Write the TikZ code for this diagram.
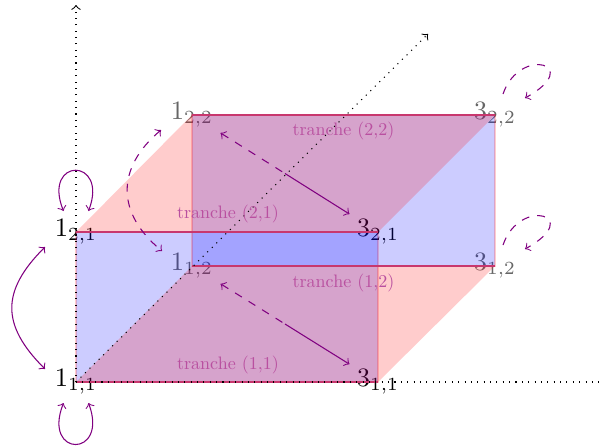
\documentclass[tikz,border=0pt]{standalone}
\usepackage{graphicx}
\usetikzlibrary{calc}
\definecolor{edgecol}{RGB}{200,55,110}
\definecolor{tranchecol}{RGB}{185,80,160}
\definecolor{arrcol}{RGB}{128,0,128}
\newcommand{\trtext}[1]{\scalebox{0.68}{\normalsize #1}}
\begin{document}
\begin{tikzpicture}[x=0.013245cm,y=-0.013245cm,
  lbl/.style={inner sep=0pt,minimum width=21.1pt,minimum height=15.8pt},
  backlbl/.style={lbl,text=black!60},
  bface/.style={fill=blue,draw=red,opacity=0.2},
  rface/.style={fill=red,opacity=0.2},
  tedge/.style={draw=edgecol,line width=0.45pt},
  axisline/.style={dotted},
  trlbl/.style={text=tranchecol,inner sep=1pt},
  arr/.style={draw=arrcol,line width=0.4pt}]
\useasboundingbox (0,0) rectangle (599,448);
% corner labels
\node[lbl] (a11) at (76,382) {$1_{1,1}$};
\node[lbl] (a21) at (76,232) {$1_{2,1}$};
\node[backlbl] (a12) at (192,266) {$1_{1,2}$};
\node[backlbl] (a22) at (192,115) {$1_{2,2}$};
\node[lbl] (b11) at (378,382) {$3_{1,1}$};
\node[lbl] (b21) at (378,232) {$3_{2,1}$};
\node[backlbl] (b12) at (495,266) {$3_{1,2}$};
\node[backlbl] (b22) at (495,115) {$3_{2,2}$};
% faces
\filldraw[bface] (a11.center) -- (b11.center) -- (b21.center) -- (a21.center) -- cycle;
\filldraw[bface] (a12.center) -- (b12.center) -- (b22.center) -- (a22.center) -- cycle;
\fill[rface] (a11.center) -- (b11.center) -- (b12.center) -- (a12.center) -- cycle;
\fill[rface] (a21.center) -- (b21.center) -- (b22.center) -- (a22.center) -- cycle;
% tranche edges
\draw[tedge] (a11.center) -- (b11.center);
\draw[tedge] (a21.center) -- (b21.center);
\draw[tedge] (a12.center) -- (b12.center);
\draw[tedge] (a22.center) -- (b22.center);
% axes
\coordinate (yend) at (76,5);
\coordinate (zend) at (428,34);
\coordinate (xend) at (599,382);
\draw[axisline,->] (a11.center) -- (yend);
\draw[axisline,->] (a11.center) -- (zend);
\draw[axisline] (a11.center) -- (xend);
% tranche labels
\node[trlbl] (t11) at ($(a11.center)!0.5!(b11.center)+(1,-17)$) {\trtext{tranche (1,1)}};
\node[trlbl] (t21) at ($(a21.center)!0.5!(b21.center)+(1,-18)$) {\trtext{tranche (2,1)}};
\node[trlbl] (t12) at ($(a12.center)!0.5!(b12.center)+(0,17)$) {\trtext{tranche (1,2)}};
\node[trlbl] (t22) at ($(a22.center)!0.5!(b22.center)+(0,16)$) {\trtext{tranche (2,2)}};
% loops on the front left corners
\draw[arr,<->] ($(a21.center)+(-12.5,-21)$) .. controls ($(a21.center)+(-34,-75)$) and ($(a21.center)+(33,-75)$) .. ($(a21.center)+(12.5,-21)$);
\draw[arr,<->] ($(a11.center)+(-12.5,21)$) .. controls ($(a11.center)+(-34,76)$) and ($(a11.center)+(33,76)$) .. ($(a11.center)+(12.5,21)$);
% vertical curved arrows
\draw[arr,<->] ($(a21.center)+(-31,15)$) .. controls (1,291) and (1,325) .. ($(a11.center)+(-31,-13)$);
\draw[arr,dashed,<->] ($(a22.center)+(-31,15)$) .. controls (116,168) and (116,213) .. ($(a12.center)+(-30,-15)$);
% diagonal arrows, dashed then solid
\coordinate (m1) at ($(a22)!0.5!(b21)$);
\coordinate (m2) at ($(a12)!0.5!(b11)$);
\draw[arr,dashed,<-] (a22) -- (m1);
\draw[arr,->] (m1) -- (b21);
\draw[arr,dashed,<-] (a12) -- (m2);
\draw[arr,->] (m2) -- (b11);
% dashed loops on the back right corners
\draw[arr,dashed,->] ($(b22.center)+(8,-21)$) .. controls ($(b22.center)+(25,-70)$) and ($(b22.center)+(90,-50)$) .. ($(b22.center)+(30,-17)$);
\draw[arr,dashed,->] ($(b12.center)+(8,-21)$) .. controls ($(b12.center)+(25,-70)$) and ($(b12.center)+(90,-50)$) .. ($(b12.center)+(30,-17)$);
\end{tikzpicture}
\end{document}
